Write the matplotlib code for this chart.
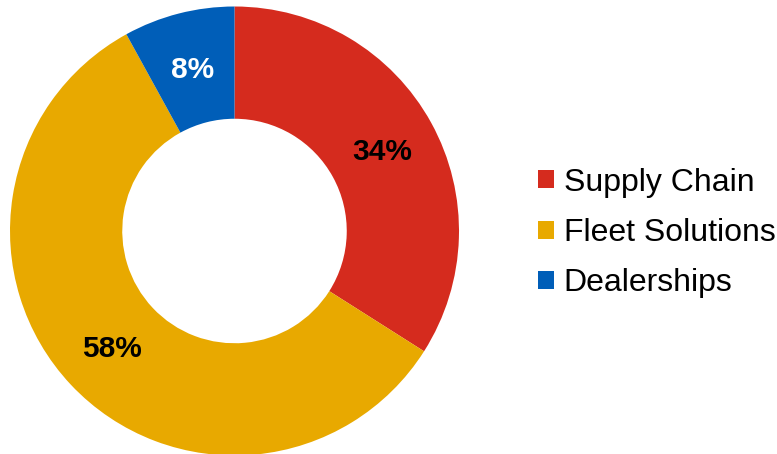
import numpy as np
import matplotlib.pyplot as plt
from matplotlib.patches import Patch

plt.rcParams['font.family'] = ['Liberation Sans', 'DejaVu Sans']

labels = ["Supply Chain", "Fleet Solutions", "Dealerships"]
shares = [34, 58, 8]
colors = ["#D52B1E", "#E8A900", "#005EB8"]
pct_colors = ["black", "black", "white"]

W, H = 777, 454
fig = plt.figure(figsize=(W / 100, H / 100), dpi=100)

# donut centre (234.5, 231) px from top-left, outer radius 224.5 px
cx, cy, r = 234.5, 231, 224.5
ax = fig.add_axes([(cx - r) / W, (H - cy - r) / H, 2 * r / W, 2 * r / H])

wedges, texts = ax.pie(
    shares,
    colors=colors,
    startangle=90,
    counterclock=False,
    radius=1,
    wedgeprops=dict(width=0.5, edgecolor="none"),
)
for w, s, c in zip(wedges, shares, pct_colors):
    ang = np.deg2rad((w.theta1 + w.theta2) / 2)
    ax.text(0.75 * np.cos(ang), 0.75 * np.sin(ang) - 0.01, f"{s}%", ha="center", va="center",
            fontsize=21.5, fontweight="bold", color=c)
ax.set_xlim(-1, 1)
ax.set_ylim(-1, 1)
ax.set_aspect("equal")
ax.axis("off")

handles = [Patch(facecolor=c, edgecolor="none") for c in colors]
fig.legend(handles, labels, loc="center left", bbox_to_anchor=(538 / W, 1 - 233 / H),
           frameon=False, fontsize=23, handlelength=0.5, handleheight=0.5,
           handletextpad=0.3, labelspacing=0.64, borderaxespad=0, borderpad=0)

fig.savefig("out.png", dpi=100)
